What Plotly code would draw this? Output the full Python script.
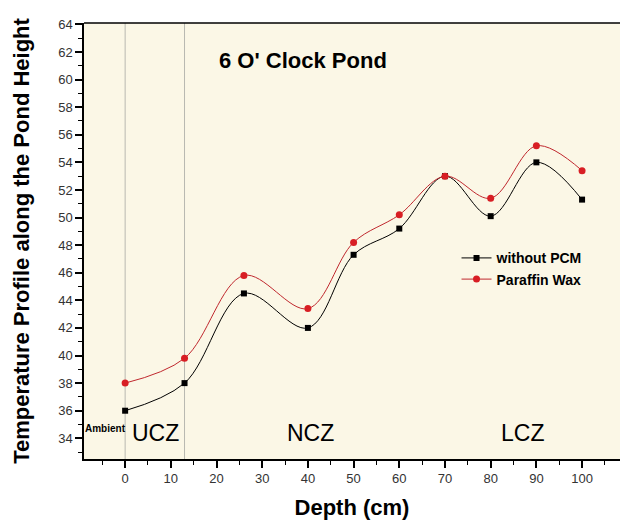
import plotly.graph_objects as go

depth = [0, 13, 26, 40, 50, 60, 70, 80, 90, 100]
without_pcm = [36.0, 38.0, 44.5, 42.0, 47.3, 49.2, 53.0, 50.1, 54.0, 51.3]
paraffin = [38.0, 39.8, 45.8, 43.4, 48.2, 50.2, 53.0, 51.4, 55.2, 53.4]
series_names = ["without PCM", "Paraffin Wax"]
zone_labels = ["UCZ", "NCZ", "LCZ"]
zone_x = [6.6, 40.5, 87]
zone_bounds = [0, 13]
chart_title = "6 O' Clock Pond"

FONT = "Liberation Sans, Arial, sans-serif"

fig = go.Figure()
fig.add_trace(go.Scatter(
    x=depth, y=without_pcm, name=series_names[0], mode="lines+markers",
    line=dict(color="black", width=1, shape="spline", smoothing=1),
    marker=dict(symbol="square", size=6, color="black"),
))
fig.add_trace(go.Scatter(
    x=depth, y=paraffin, name=series_names[1], mode="lines+markers",
    line=dict(color="#c0282e", width=1, shape="spline", smoothing=1),
    marker=dict(symbol="circle", size=7, color="#d81e24"),
))

for xb in zone_bounds:
    fig.add_shape(type="line", x0=xb, x1=xb, y0=0, y1=1, xref="x", yref="paper",
                  line=dict(color="#b8b8b0", width=1), layer="below")

# top border
fig.add_shape(type="line", x0=0, x1=1, y0=1, y1=1, xref="paper", yref="paper",
              line=dict(color="black", width=1.5))

for lab, zx in zip(zone_labels, zone_x):
    fig.add_annotation(x=zx, y=34.4, text=lab, showarrow=False,
                       font=dict(family=FONT, size=23, color="black"))

fig.add_annotation(x=-4.3, y=34.7, text="<b>Ambient</b>", showarrow=False,
                   font=dict(family=FONT, size=10, color="black"))

fig.add_annotation(x=20.0, y=61.4, text="<b>" + chart_title + "</b>", showarrow=False,
                   xanchor="left", font=dict(family=FONT, size=22, color="black"))

fig.update_layout(
    width=620, height=523,
    margin=dict(l=84, r=0, t=23, b=64),
    paper_bgcolor="white",
    plot_bgcolor="#fbf7e6",
    font=dict(family=FONT, color="#333"),
    showlegend=True,
    legend=dict(x=0.695, y=0.497, xanchor="left", yanchor="top",
                bgcolor="rgba(0,0,0,0)",
                font=dict(family=FONT, size=14, color="black", weight="bold"),
                tracegroupgap=0, itemwidth=30),
    xaxis=dict(
        range=[-9, 108.3], tickmode="array",
        tickvals=list(range(0, 101, 10)), ticktext=[str(v) for v in range(0, 101, 10)],
        ticks="outside", ticklen=7, tickwidth=1.5, tickcolor="black",
        minor=dict(tickmode="array", tickvals=list(range(-5, 110, 10)), ticks="outside",
                   ticklen=4, tickcolor="black", tickwidth=1),
        showline=True, linecolor="black", linewidth=1.5, showgrid=False, zeroline=False,
        tickfont=dict(family=FONT, size=13, color="#333"),
        title=dict(text="<b>Depth (cm)</b>", font=dict(family=FONT, size=22, color="black"),
                   standoff=14),
    ),
    yaxis=dict(
        range=[32.5, 64.1], tickmode="array",
        tickvals=list(range(34, 65, 2)), ticktext=[str(v) for v in range(34, 65, 2)],
        ticks="outside", ticklen=7, tickwidth=1.5, tickcolor="black",
        minor=dict(tickmode="array", tickvals=list(range(33, 65, 2)), ticks="outside",
                   ticklen=4, tickcolor="black", tickwidth=1),
        showline=True, linecolor="black", linewidth=1.5, showgrid=False, zeroline=False,
        tickfont=dict(family=FONT, size=13, color="#333"),
        title=dict(text="<b>Temperature Profile along the Pond Height</b>",
                   font=dict(family=FONT, size=22, color="black"), standoff=22),
    ),
)

fig.write_html("out.html")
